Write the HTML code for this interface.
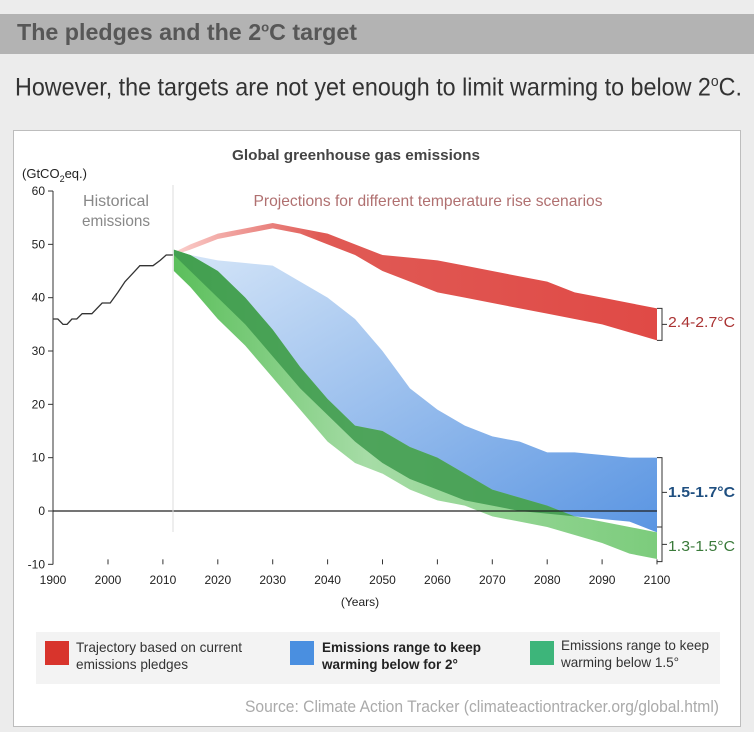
<!DOCTYPE html>
<html><head><meta charset="utf-8">
<style>
body{margin:0;width:754px;height:732px;background:#ececec;overflow:hidden;font-family:"Liberation Sans",sans-serif;position:relative}
.t{position:absolute;white-space:nowrap;transform-origin:0 0}
</style></head><body>
<div class="t" style="left:0;top:14px;width:754px;height:40px;background:#b3b3b3"></div>
<div class="t" data-w="340" style="left:17px;top:19px;font-size:23px;font-weight:bold;color:#575757">The pledges and the 2<sup style="font-size:13px">o</sup>C target</div>
<div class="t" data-w="727" style="left:15px;top:73px;font-size:25px;color:#333">However, the targets are not yet enough to limit warming to below 2<sup style="font-size:15px">o</sup>C.</div>
<div class="t" style="left:13px;top:130px;width:726px;height:595px;background:#fff;border:1px solid #bdbdbd"></div>
<svg id="c" width="754" height="732" style="position:absolute;left:0;top:0" font-family="Liberation Sans, sans-serif"></svg>
<div class="t" style="left:36px;top:632px;width:684px;height:52px;background:#f3f3f3"></div>
<div class="t" style="left:45px;top:641px;width:24px;height:24px;background:#d8342c"></div>
<div class="t" data-w="166" style="left:76px;top:639px;font-size:14px;line-height:17px;color:#333">Trajectory based on current<br>emissions pledges</div>
<div class="t" style="left:290px;top:641px;width:24px;height:24px;background:#4a8fe0"></div>
<div class="t" data-w="159" style="left:322px;top:639px;font-size:14px;line-height:17px;color:#222;font-weight:bold">Emissions range to keep<br>warming below for 2°</div>
<div class="t" style="left:530px;top:641px;width:24px;height:24px;background:#3db57a"></div>
<div class="t" data-w="148" style="left:561px;top:637px;font-size:14px;line-height:17px;color:#333">Emissions range to keep<br>warming below 1.5°</div>
<div class="t" data-w="474" style="left:245px;top:697px;font-size:17px;color:#aaa">Source: Climate Action Tracker (climateactiontracker.org/global.html)</div>
<script>
const histYears=[1900,1909,1918.5,1926,1935,1944,1954,1972,1991,2000.4,2001.8,2003.1,2004.9,2005.8,2008.2,2009.5,2010.6,2011.8];
const histVals=[36,36,35,35,36,36,37,37,39,39,41,43,45,46,46,47,48,48];
const projYears=[2012,2015,2020,2025,2030,2035,2040,2045,2050,2055,2060,2065,2070,2075,2080,2085,2090,2095,2100];
const redHi=[48.5,50,52,53,54,53,52,50,48,47.5,47,46,45,44,43,41,40,39,38];
const redLo=[48,49,51,52,53,52,50,48,45,43,41,40,39,38,37,36,35,33.5,32];
const blueHi=[49,48,47,46.5,46,43,40,36,30,23,19,16,14,13,11,11,10.5,10,10];
const blueLo=[48,45,40,35,29,23,18,13,9,6,4,2,1,0,-0.5,-1,-1.5,-2,-4];
const greenHi=[49,48,45,40,34,27,21,16,15,12,10,7,4,2.5,1,-1,-2,-3,-4];
const greenLo=[45,42,36,31,25,19,13,9,7,4,2,1,-1,-2,-3,-4.5,-6,-8,-9];
const yTicks=[-10,0,10,20,30,40,50,60];
const xTicks=[1900,2000,2010,2020,2030,2040,2050,2060,2070,2080,2090,2100];
const X=y=>y<2000?53+(y-1900)*0.54:108+(y-2000)*5.49;
const Y=v=>511-v*5.333;
const svg=document.getElementById('c');const NS='http://www.w3.org/2000/svg';
function mk(t,a,p){const e=document.createElementNS(NS,t);for(const k in a)e.setAttribute(k,a[k]);(p||svg).appendChild(e);return e;}
svg.innerHTML='<defs><linearGradient id="gr" x1="0" x2="1" y1="0" y2="0"><stop offset="0" stop-color="#fbd0cd"/><stop offset="0.3" stop-color="#e05a55"/><stop offset="1" stop-color="#e04a46"/></linearGradient><linearGradient id="gb" x1="0" x2="1" y1="0" y2="1"><stop offset="0" stop-color="#d6e6f8"/><stop offset="1" stop-color="#5a95e2"/></linearGradient><linearGradient id="gg" x1="0" x2="1" y1="0" y2="0"><stop offset="0" stop-color="#5bbf5b"/><stop offset="0.4" stop-color="#a6dca6"/><stop offset="1" stop-color="#7ccc7c"/></linearGradient></defs>';
function band(hi,lo,fill,name,extra){let d='M';projYears.forEach((y,i)=>d+=X(y)+','+Y(hi[i])+' L');for(let i=projYears.length-1;i>=0;i--)d+=X(projYears[i])+','+Y(lo[i])+(i?' L':'');const p=mk('path',Object.assign({d:d+'Z',fill:fill},extra||{}));

return d+'Z';}
band(redHi,redLo,'url(#gr)','band-red-pledges');
const bd=band(blueHi,blueLo,'url(#gb)','band-blue-2c');
band(greenHi,greenLo,'url(#gg)','band-green-1-5c');
const cp=mk('clipPath',{id:'cb'},svg.querySelector('defs'));mk('path',{d:bd},cp);
band(greenHi,greenLo,'#3e9a4e','band-overlap',{'clip-path':'url(#cb)',opacity:'0.85'});
const ya=mk('line',{x1:53,x2:53,y1:Y(60),y2:Y(-10),stroke:'#333'});


mk('line',{x1:53,x2:657,y1:Y(0),y2:Y(0),stroke:'#222','stroke-width':1.2});
mk('line',{x1:173,x2:173,y1:185,y2:532,stroke:'#ddd'});
yTicks.forEach(v=>{mk('line',{x1:48,x2:53,y1:Y(v),y2:Y(v),stroke:'#333'});const t=mk('text',{x:45,y:Y(v)+4,'text-anchor':'end','font-size':12,fill:'#222'});t.textContent=v;

});
xTicks.forEach(v=>{mk('line',{x1:X(v),x2:X(v),y1:Y(-10)-5,y2:Y(-10),stroke:'#333'});const t=mk('text',{x:X(v),y:584,'text-anchor':'middle','font-size':12,fill:'#222'});t.textContent=v;

});
let hd='M';histYears.forEach((y,i)=>hd+=(i?' L':'')+X(y)+','+Y(histVals[i]));
const hl=mk('path',{d:hd,fill:'none',stroke:'#333','stroke-width':1.3});


function txt(x,y,s,str,attrs,name,w){const a=Object.assign({x:x,y:y,'font-size':s},attrs);if(w){a.textLength=w;a.lengthAdjust='spacingAndGlyphs';}const t=mk('text',a);t.textContent=str;

return t;}
txt(356,160,15,'Global greenhouse gas emissions',{'text-anchor':'middle',fill:'#444','font-weight':'bold'},'chart-title',248);
const u=txt(22,178,13,'(GtCO',{fill:'#222'},'y-axis-unit');const s2=document.createElementNS(NS,'tspan');s2.setAttribute('font-size',9);s2.setAttribute('dy',4);s2.textContent='2';u.appendChild(s2);const s3=document.createElementNS(NS,'tspan');s3.setAttribute('dy',-4);s3.textContent='eq.)';u.appendChild(s3);
txt(116,206,16,'Historical',{'text-anchor':'middle',fill:'#888'},'historical-label',66);
txt(116,226,16,'emissions',{'text-anchor':'middle',fill:'#888'},'historical-label-2',68);
txt(428,206,16,'Projections for different temperature rise scenarios',{'text-anchor':'middle',fill:'#b07070'},'projections-label',349);
txt(360,606,12,'(Years)',{'text-anchor':'middle',fill:'#222'},'x-axis-title');
function br(v1,v2){const a=Y(v1),b=Y(v2);mk('path',{d:'M657,'+a+' L662,'+a+' L662,'+b+' L657,'+b+' M662,'+(a+b)/2+' L667,'+(a+b)/2,fill:'none',stroke:'#333'});}
br(38,32);br(10,-3);br(-3,-9.5);
txt(668,327,15,'2.4-2.7°C',{fill:'#a33'},'label-red-range',67);
txt(668,497,15,'1.5-1.7°C',{fill:'#1f4f80','font-weight':'bold'},'label-blue-range',67);
txt(668,551,15,'1.3-1.5°C',{fill:'#3a7a3a'},'label-green-range',67);
document.querySelectorAll('[data-w]').forEach(el=>{const w=el.getBoundingClientRect().width;el.style.transform='scaleX('+(+el.dataset.w/w)+')';});
</script>
</body></html>
